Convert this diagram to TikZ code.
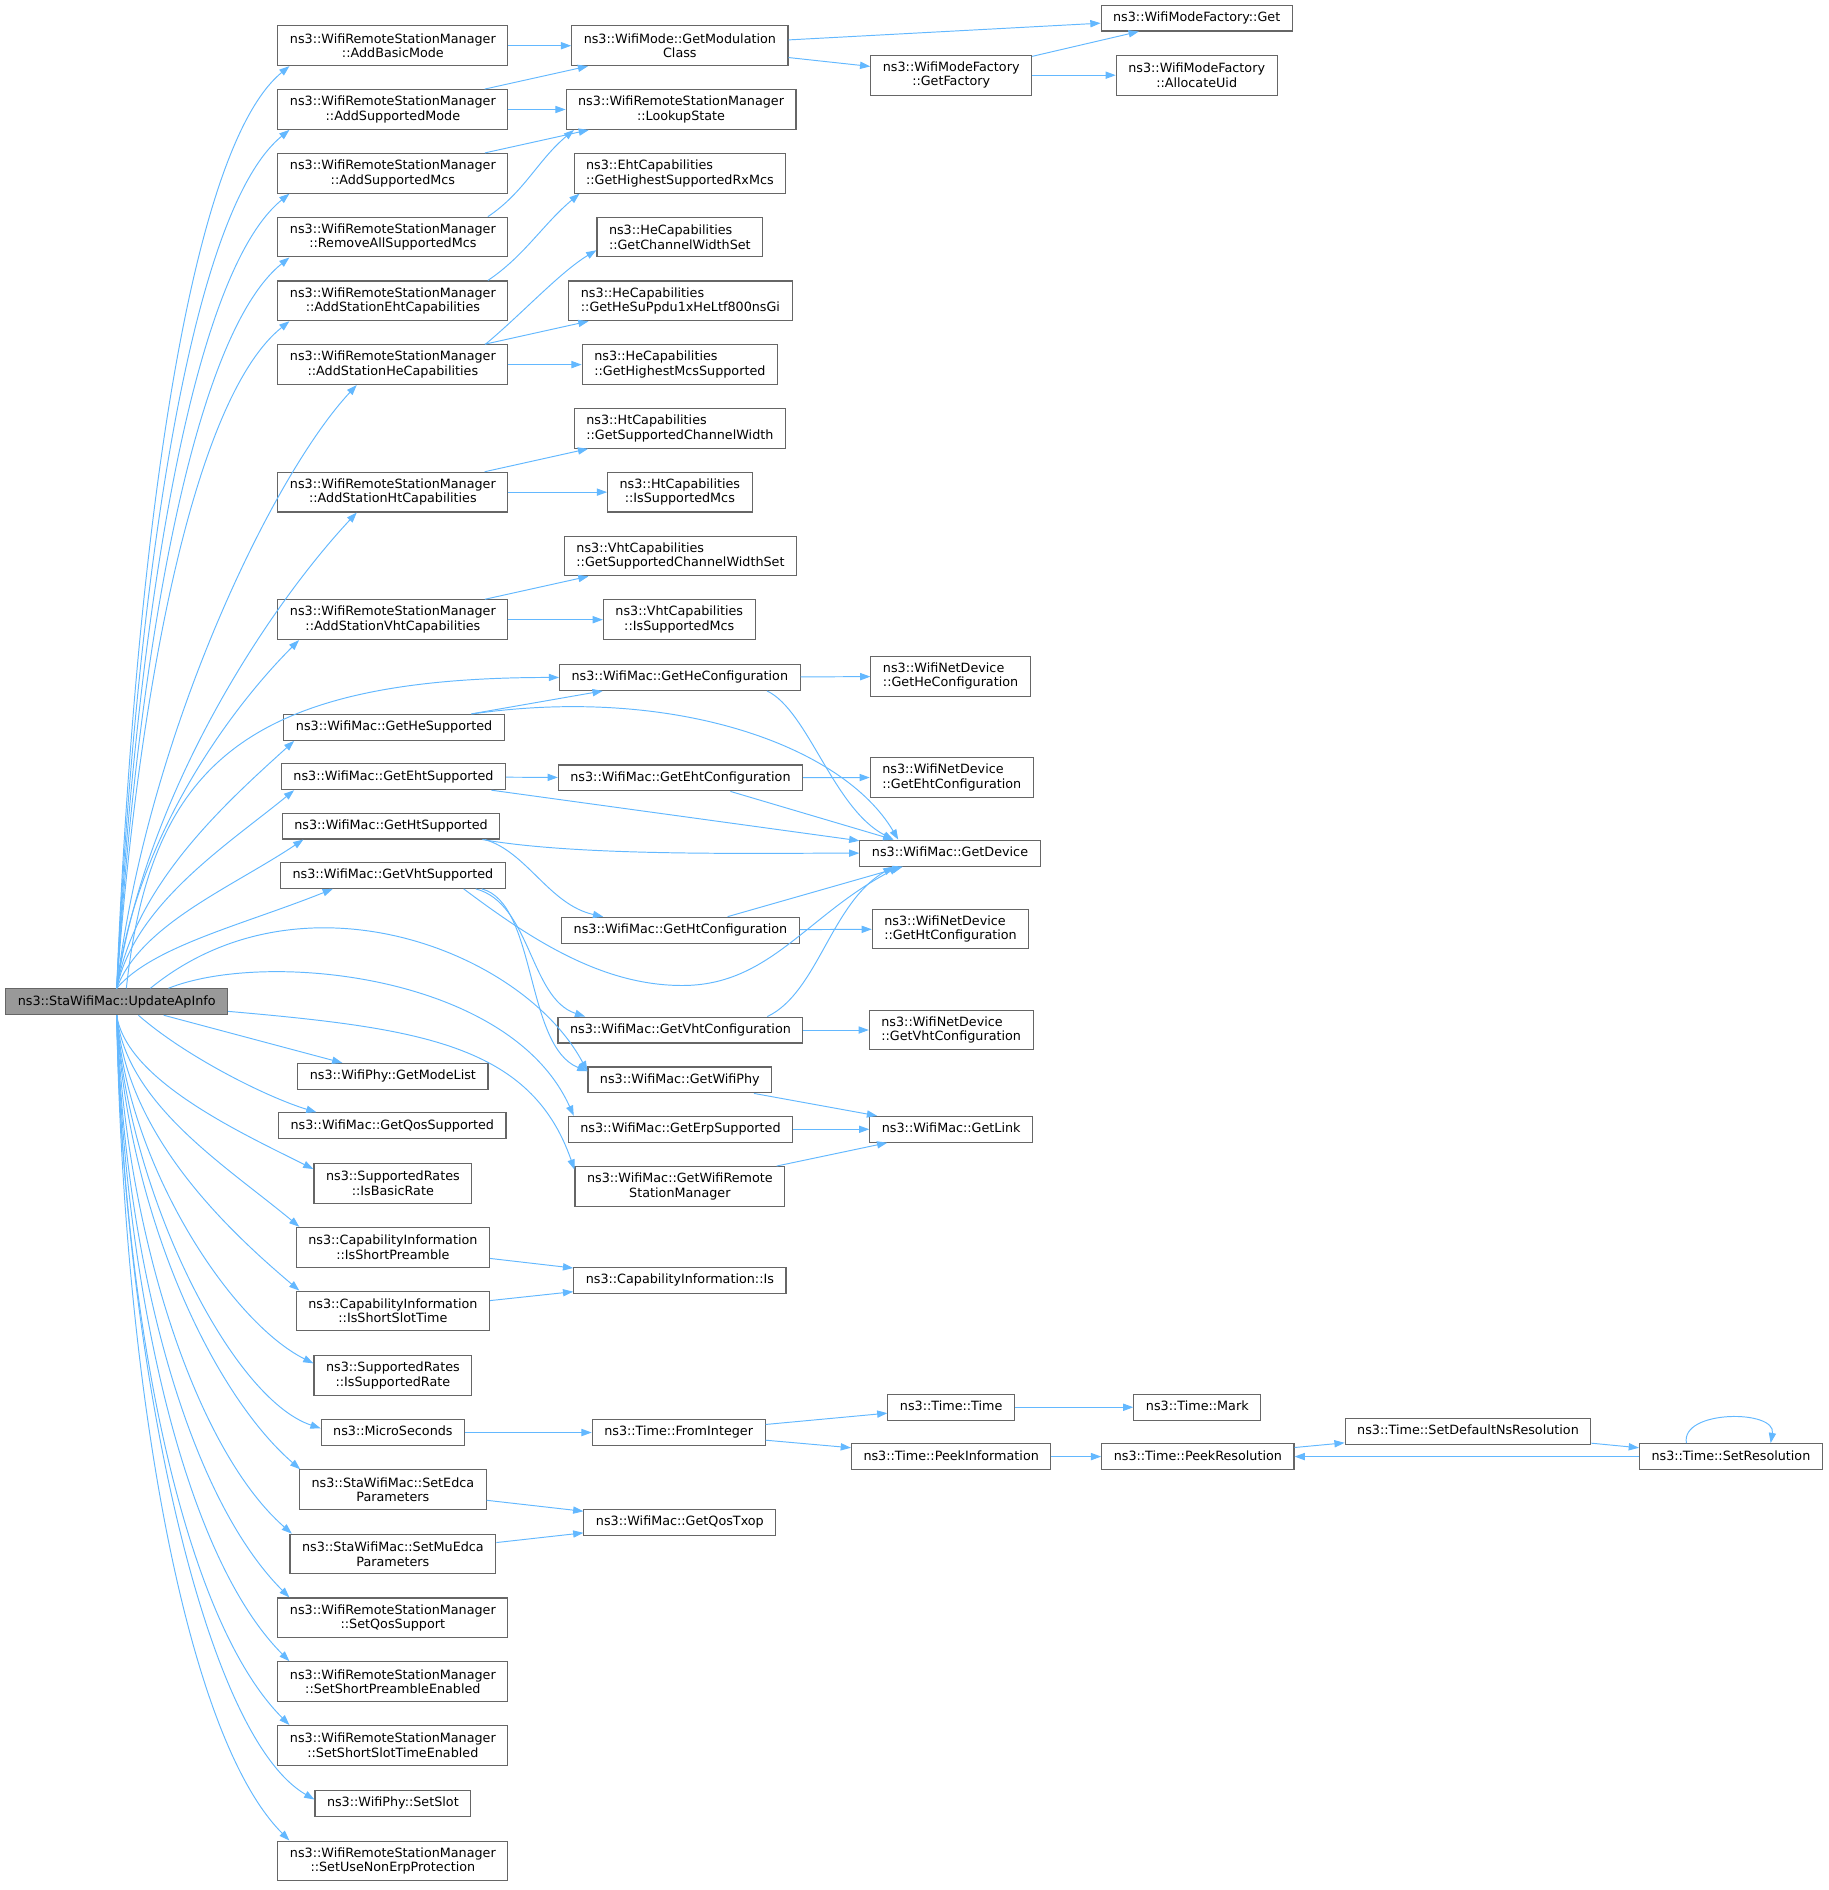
\documentclass[tikz,border=0pt]{standalone}
\usepackage{fontspec}
\newfontfamily\dejavu{DejaVu Sans}
\usetikzlibrary{arrows.meta,positioning}
\definecolor{edgeblue}{HTML}{63B8FF}
\definecolor{boxgray}{HTML}{666666}
\definecolor{rootgray}{HTML}{999999}
\begin{document}
\begin{tikzpicture}[x=1pt,y=1pt,
	fnbase/.style={draw=boxgray, line width=.9pt, fill=white, inner xsep=10pt, inner ysep=3pt,
		font=\dejavu\fontsize{10.6}{12}\selectfont},
	fnbox/.style={fnbase, align=center, text height=8.2pt, text depth=2.5pt, minimum height=21.5pt},
	fnbox2/.style={fnbase, align=center, minimum height=33pt},
	fnboxl/.style={fnbase, align=left, minimum height=33pt},
	fnroot/.style={fnbox, fill=rootgray},
	calledge/.style={draw=edgeblue, line width=.8pt, -{Triangle[length=8.5pt,width=6pt]}}]
	\useasboundingbox (0,0) rectangle (1520,-1570.7);
	% the caller
	\node[fnroot] (upd) at (97,-832.5) {ns3::StaWifiMac::UpdateApInfo};
	% first level
	\node[fnbox2] (abm) at (326.5,-38) {ns3::WifiRemoteStationManager\\::AddBasicMode};
	\node[fnbox2] (asmode) at (326.5,-91) {ns3::WifiRemoteStationManager\\::AddSupportedMode};
	\node[fnbox2] (asmcs) at (326.5,-144) {ns3::WifiRemoteStationManager\\::AddSupportedMcs};
	\node[fnbox2] (rasm) at (326.5,-197) {ns3::WifiRemoteStationManager\\::RemoveAllSupportedMcs};
	\node[fnbox2] (aseht) at (326.5,-250) {ns3::WifiRemoteStationManager\\::AddStationEhtCapabilities};
	\node[fnbox2] (ashe) at (326.5,-303) {ns3::WifiRemoteStationManager\\::AddStationHeCapabilities};
	\node[fnbox2] (asht) at (326.5,-409) {ns3::WifiRemoteStationManager\\::AddStationHtCapabilities};
	\node[fnbox2] (asvht) at (326.5,-515) {ns3::WifiRemoteStationManager\\::AddStationVhtCapabilities};
	\node[fnbox] (hesup) at (327.5,-604.5) {ns3::WifiMac::GetHeSupported};
	\node[fnbox] (ehtsup) at (327,-645.5) {ns3::WifiMac::GetEhtSupported};
	\node[fnbox] (htsup) at (325,-686.5) {ns3::WifiMac::GetHtSupported};
	\node[fnbox] (vhtsup) at (326.5,-727.5) {ns3::WifiMac::GetVhtSupported};
	\node[fnbox] (modelist) at (326.5,-894.5) {ns3::WifiPhy::GetModeList};
	\node[fnbox] (qossup) at (326,-935.5) {ns3::WifiMac::GetQosSupported};
	\node[fnbox2] (isbasic) at (326.5,-983.5) {ns3::SupportedRates\\::IsBasicRate};
	\node[fnbox2] (shortpre) at (326.5,-1036.5) {ns3::CapabilityInformation\\::IsShortPreamble};
	\node[fnbox2] (shortslot) at (326.5,-1089.5) {ns3::CapabilityInformation\\::IsShortSlotTime};
	\node[fnbox2] (suprate) at (326.5,-1143) {ns3::SupportedRates\\::IsSupportedRate};
	\node[fnbox] (micro) at (326.5,-1190.5) {ns3::MicroSeconds};
	\node[fnbox2] (edca) at (326.5,-1238) {ns3::StaWifiMac::SetEdca\\Parameters};
	\node[fnbox2] (muedca) at (326.5,-1291.5) {ns3::StaWifiMac::SetMuEdca\\Parameters};
	\node[fnbox2] (qossupp) at (326.5,-1344.5) {ns3::WifiRemoteStationManager\\::SetQosSupport};
	\node[fnbox2] (spreamble) at (326.5,-1397.5) {ns3::WifiRemoteStationManager\\::SetShortPreambleEnabled};
	\node[fnbox2] (sslot) at (326.5,-1450.5) {ns3::WifiRemoteStationManager\\::SetShortSlotTimeEnabled};
	\node[fnbox] (setslot) at (326.5,-1498.5) {ns3::WifiPhy::SetSlot};
	\node[fnbox2] (nonerp) at (326.5,-1546.5) {ns3::WifiRemoteStationManager\\::SetUseNonErpProtection};
	% second level
	\node[fnbox2] (modcls) at (565,-38) {ns3::WifiMode::GetModulation\\Class};
	\node[fnbox2] (lookup) at (566,-91) {ns3::WifiRemoteStationManager\\::LookupState};
	\node[fnboxl] (ehtrx) at (565,-144) {ns3::EhtCapabilities\\::GetHighestSupportedRxMcs};
	\node[fnboxl] (hecw) at (565,-197) {ns3::HeCapabilities\\::GetChannelWidthSet};
	\node[fnboxl] (hesu) at (565.5,-250) {ns3::HeCapabilities\\::GetHeSuPpdu1xHeLtf800nsGi};
	\node[fnboxl] (hemcs) at (565,-303) {ns3::HeCapabilities\\::GetHighestMcsSupported};
	\node[fnboxl] (htcw) at (565,-356) {ns3::HtCapabilities\\::GetSupportedChannelWidth};
	\node[fnbox2] (htmcs) at (565,-409) {ns3::HtCapabilities\\::IsSupportedMcs};
	\node[fnboxl] (vhtcw) at (565.5,-462) {ns3::VhtCapabilities\\::GetSupportedChannelWidthSet};
	\node[fnbox2] (vhtmcs) at (564.5,-515) {ns3::VhtCapabilities\\::IsSupportedMcs};
	\node[fnbox] (hecfg) at (565,-563) {ns3::WifiMac::GetHeConfiguration};
	\node[fnbox] (ehtcfg) at (565.5,-646.5) {ns3::WifiMac::GetEhtConfiguration};
	\node[fnbox] (htcfg) at (565.5,-773) {ns3::WifiMac::GetHtConfiguration};
	\node[fnbox] (vhtcfg) at (565.5,-856) {ns3::WifiMac::GetVhtConfiguration};
	\node[fnbox] (wifiphy) at (565,-897.5) {ns3::WifiMac::GetWifiPhy};
	\node[fnbox] (erpsup) at (565.5,-938.5) {ns3::WifiMac::GetErpSupported};
	\node[fnbox2] (wrsm) at (565,-986) {ns3::WifiMac::GetWifiRemote\\StationManager};
	\node[fnbox] (capis) at (565,-1064) {ns3::CapabilityInformation::Is};
	\node[fnbox] (fromint) at (564,-1190.5) {ns3::Time::FromInteger};
	\node[fnbox] (qostxop) at (565,-1265) {ns3::WifiMac::GetQosTxop};
	% third level
	\node[fnbox2] (factory) at (790.5,-62.5) {ns3::WifiModeFactory\\::GetFactory};
	\node[fnboxl] (ndhe) at (790,-562) {ns3::WifiNetDevice\\::GetHeConfiguration};
	\node[fnboxl] (ndeht) at (791,-646) {ns3::WifiNetDevice\\::GetEhtConfiguration};
	\node[fnbox] (getdev) at (789.5,-709) {ns3::WifiMac::GetDevice};
	\node[fnboxl] (ndht) at (790,-772) {ns3::WifiNetDevice\\::GetHtConfiguration};
	\node[fnboxl] (ndvht) at (790.5,-856) {ns3::WifiNetDevice\\::GetVhtConfiguration};
	\node[fnbox] (getlink) at (790.5,-938.5) {ns3::WifiMac::GetLink};
	\node[fnbox] (ttime) at (790.5,-1169.5) {ns3::Time::Time};
	\node[fnbox] (peekinfo) at (790.5,-1210.5) {ns3::Time::PeekInformation};
	% further levels
	\node[fnbox] (mfget) at (994.5,-15) {ns3::WifiModeFactory::Get};
	\node[fnbox2] (alloc) at (994.5,-62.5) {ns3::WifiModeFactory\\::AllocateUid};
	\node[fnbox] (mark) at (995,-1169.5) {ns3::Time::Mark};
	\node[fnbox] (peekres) at (995.5,-1210.5) {ns3::Time::PeekResolution};
	\node[fnbox] (setdef) at (1220,-1189.5) {ns3::Time::SetDefaultNsResolution};
	\node[fnbox] (setres) at (1438.5,-1210.5) {ns3::Time::SetResolution};

	% calls going up from the caller
	\draw[calledge] (upd.north) .. controls +(13,322) and +(-90,-74) .. ([xshift=10pt]abm.south west);
	\draw[calledge] (upd.north) .. controls +(14,300) and +(-88,-72) .. ([xshift=10pt]asmode.south west);
	\draw[calledge] (upd.north) .. controls +(15,278) and +(-86,-70) .. ([xshift=10pt]asmcs.south west);
	\draw[calledge] (upd.north) .. controls +(16,256) and +(-84,-68) .. ([xshift=10pt]rasm.south west);
	\draw[calledge] (upd.north) .. controls +(17,234) and +(-82,-66) .. ([xshift=10pt]aseht.south west);
	\draw[calledge] (upd.north) .. controls +(25,210) and +(-70,-75) .. ([xshift=-30pt]ashe.south);
	\draw[calledge] (upd.north) .. controls +(25,167) and +(-70,-75) .. ([xshift=-30pt]asht.south);
	\draw[calledge] (upd.north) .. controls +(15,122) and +(-60,-60) .. ([xshift=18pt]asvht.south west);
	\draw[calledge] ([xshift=8pt]upd.north) .. controls +(20,182) and +(-264,0) .. (hecfg.west);
	\draw[calledge] (upd.north) .. controls +(15,87) and +(-55,-50) .. ([xshift=9pt]hesup.south west);
	\draw[calledge] (upd.north) .. controls +(15,70) and +(-55,-45) .. ([xshift=11pt]ehtsup.south west);
	\draw[calledge] (upd.north) .. controls +(20,53) and +(-60,-40) .. ([xshift=18pt]htsup.south west);
	\draw[calledge] (upd.north) .. controls +(30,35) and +(-75,-30) .. ([xshift=44pt]vhtsup.south west);
	\draw[calledge] ([xshift=28pt]upd.north) .. controls +(125,102) and +(-54,101) .. ([yshift=-4pt]wifiphy.north west);
	\draw[calledge] ([xshift=43pt]upd.north) .. controls +(80,32) and +(-53,118) .. ([xshift=5pt]erpsup.north west);
	\draw[calledge] ([yshift=-8pt]upd.east) .. controls +(160,-14) and +(-36,104) .. ([yshift=-3pt]wrsm.north west);
	% calls going down from the caller
	\draw[calledge] ([xshift=39pt]upd.south) -- ([xshift=-42pt]modelist.north);
	\draw[calledge] ([xshift=18pt]upd.south) .. controls +(40,-35) and +(-40,12) .. ([xshift=-63pt]qossup.north);
	\draw[calledge] (upd.south) .. controls +(8,-54) and +(-60,30) .. ([yshift=-5pt]isbasic.north west);
	\draw[calledge] (upd.south) .. controls +(8,-74) and +(-60,50) .. ([xshift=3pt]shortpre.north west);
	\draw[calledge] (upd.south) .. controls +(8,-97) and +(-65,55) .. ([xshift=3pt]shortslot.north west);
	\draw[calledge] (upd.south) .. controls +(8,-122) and +(-70,35) .. ([yshift=-7pt]suprate.north west);
	\draw[calledge] (upd.south) .. controls +(8,-144) and +(-75,25) .. ([yshift=3.5pt]micro.west);
	\draw[calledge] (upd.south) .. controls +(8,-159) and +(-75,65) .. ([xshift=1pt]edca.north west);
	\draw[calledge] (upd.south) .. controls +(7,-181) and +(-80,70) .. ([xshift=2pt]muedca.north west);
	\draw[calledge] (upd.south) .. controls +(6,-204) and +(-85,85) .. ([xshift=10pt]qossupp.north west);
	\draw[calledge] (upd.south) .. controls +(6,-226) and +(-88,88) .. ([xshift=10pt]spreamble.north west);
	\draw[calledge] (upd.south) .. controls +(5,-248) and +(-90,90) .. ([xshift=10pt]sslot.north west);
	\draw[calledge] (upd.south) .. controls +(5,-274) and +(-95,55) .. ([yshift=3pt]setslot.west);
	\draw[calledge] (upd.south) .. controls +(5,-290) and +(-90,90) .. ([xshift=10pt]nonerp.north west);

	% second level calls
	\draw[calledge] (abm) -- (modcls);
	\draw[calledge] (asmode) -- (modcls);
	\draw[calledge] (asmode) -- (lookup);
	\draw[calledge] (asmcs) -- (lookup);
	\draw[calledge] ([xshift=-17pt]rasm.north east) .. controls +(30,20) and +(-30,-25) .. ([xshift=7pt]lookup.south west);
	\draw[calledge] ([xshift=-17pt]aseht.north east) .. controls +(30,20) and +(-30,-25) .. ([xshift=5pt]ehtrx.south west);
	\draw[calledge] ([xshift=-19pt]ashe.north east) .. controls +(30,25) and +(-30,-18) .. ([yshift=6pt]hecw.south west);
	\draw[calledge] (ashe) -- (hesu);
	\draw[calledge] (ashe) -- (hemcs);
	\draw[calledge] (asht) -- (htcw);
	\draw[calledge] (asht) -- (htmcs);
	\draw[calledge] (asvht) -- (vhtcw);
	\draw[calledge] (asvht) -- (vhtmcs);
	\draw[calledge] (hesup) -- (hecfg);
	\draw[calledge] ([xshift=-27pt]hesup.north east) .. controls +(168,24) and +(-46,78) .. ([xshift=-43pt]getdev.north);
	\draw[calledge] (ehtsup) -- (ehtcfg);
	\draw[calledge] (ehtsup) -- (getdev);
	\draw[calledge] ([xshift=-15pt]htsup.south east) .. controls +(80,-14) and +(-90,0) .. (getdev.west);
	\draw[calledge] ([xshift=-13pt]htsup.south east) .. controls +(35,-10) and +(-45,10) .. ([xshift=35pt]htcfg.north west);
	\draw[calledge] ([xshift=-35pt]vhtsup.south east) .. controls +(56,-42) and (500,-819) .. (567,-819)
		.. controls (640,-819) and +(-77,-40) .. ([xshift=-42pt]getdev.south);
	\draw[calledge] ([xshift=-25pt]vhtsup.south east) .. controls +(46,-12) and +(-46,15) .. ([xshift=23pt]vhtcfg.north west);
	\draw[calledge] ([xshift=-20pt]vhtsup.south east) .. controls +(46,-12) and +(-52,21) .. ([yshift=-4pt]wifiphy.north west);
	\draw[calledge] (shortpre) -- (capis);
	\draw[calledge] (shortslot) -- (capis);
	\draw[calledge] (micro) -- (fromint);
	\draw[calledge] (edca) -- (qostxop);
	\draw[calledge] (muedca) -- (qostxop);

	% third level calls
	\draw[calledge] (modcls) -- (mfget);
	\draw[calledge] (modcls) -- (factory);
	\draw[calledge] (hecfg) -- (ndhe);
	\draw[calledge] ([xshift=-28pt]hecfg.south east) .. controls +(34,-16) and +(-50,26) .. ([xshift=-47pt]getdev.north);
	\draw[calledge] (ehtcfg) -- (ndeht);
	\draw[calledge] ([xshift=41.5pt]ehtcfg.south) -- ([xshift=-47pt]getdev.north);
	\draw[calledge] (htcfg) -- (getdev);
	\draw[calledge] (htcfg) -- (ndht);
	\draw[calledge] ([xshift=-30pt]vhtcfg.north east) .. controls +(42,20) and +(-52,-30) .. ([xshift=-47pt]getdev.south);
	\draw[calledge] (vhtcfg) -- (ndvht);
	\draw[calledge] (wifiphy) -- (getlink);
	\draw[calledge] (erpsup) -- (getlink);
	\draw[calledge] (wrsm) -- (getlink);
	\draw[calledge] (fromint) -- (ttime);
	\draw[calledge] (fromint) -- (peekinfo);

	% further calls
	\draw[calledge] (factory) -- (mfget);
	\draw[calledge] (factory) -- (alloc);
	\draw[calledge] (ttime) -- (mark);
	\draw[calledge] (peekinfo) -- (peekres);
	\draw[calledge] (peekres) -- (setdef);
	\draw[calledge] (setdef) -- (setres);
	\draw[calledge] (setres) -- (peekres);
	\draw[calledge] ([xshift=-37pt]setres.north) .. controls +(-5,28) and +(5,28) .. ([xshift=33pt]setres.north);
\end{tikzpicture}
\end{document}
